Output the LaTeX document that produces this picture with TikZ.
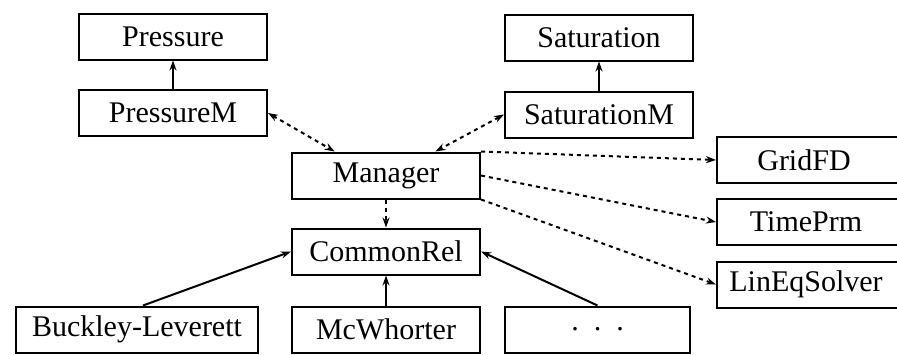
\documentclass[tikz,border=0pt]{standalone}
\usepackage{fontspec}
\setmainfont{Liberation Serif}
\usetikzlibrary{arrows.meta,calc}
\begin{document}
\begin{tikzpicture}[x=0.5pt,y=-0.5pt,
  box/.style={draw,line width=1pt,minimum width=94pt,minimum height=23pt,inner sep=0pt,
    font=\fontsize{15}{18}\selectfont},
  tip/.style={-{Stealth[length=5pt,width=3.5pt]}},
  bitip/.style={{Stealth[length=5pt,width=3.5pt]}-{Stealth[length=5pt,width=3.5pt]}},
  solidlink/.style={line width=1pt},
  dashlink/.style={line width=1pt,dash pattern=on 2pt off 2pt}]
\useasboundingbox (0,0) rectangle (897,354);
\clip (0,0) rectangle (897,354);
% nodes
\node[box] (pr)  at (173,36.5)  {Pressure};
\node[box] (prm) at (173,113)   {PressureM};
\node[box] (sa)  at (599,37.5)  {Saturation};
\node[box] (sam) at (599,114.5) {SaturationM};
\node[box] (mgr) at (386,175.5) {Manager};
\node[box] (cr)  at (386,251.5) {CommonRel};
\node[box,minimum width=121pt] (bl) at (137,329.5) {Buckley-Leverett};
\node[box] (mw)  at (386,329.5) {McWhorter};
\node[box,minimum width=92.5pt] (dots) at (597.5,329.5) {.\ \ .\ \ .};
\node[box,minimum width=91pt] (grid) at (808,160) {\hspace*{-4pt}GridFD};
\node[box,minimum width=91pt] (tp)   at (808,222) {\hspace*{-2pt}TimePrm};
\node[box,minimum width=91pt] (lin)  at (808,284.5) {\hspace*{-2pt}LinEqSolver};
% connectors
\draw[solidlink,tip] (prm) -- (pr);
\draw[solidlink,tip] (sam) -- (sa);
\draw[dashlink,bitip] (prm.east) -- ($(mgr.north west)!0.23!(mgr.north east)$);
\draw[dashlink,bitip] (sam.west) -- ($(mgr.north west)!0.76!(mgr.north east)$);
\draw[dashlink,tip] (mgr.north east) -- (grid.west);
\draw[dashlink,tip] (mgr.east) -- (tp.west);
\draw[dashlink,tip] (mgr.south east) -- (lin.west);
\draw[dashlink,tip] (mgr) -- (cr);
\draw[solidlink,tip] ([xshift=3pt]bl.north) -- (cr.west);
\draw[solidlink,tip] (mw) -- (cr);
\draw[solidlink,tip] (dots.north) -- (cr.east);
\end{tikzpicture}
\end{document}
